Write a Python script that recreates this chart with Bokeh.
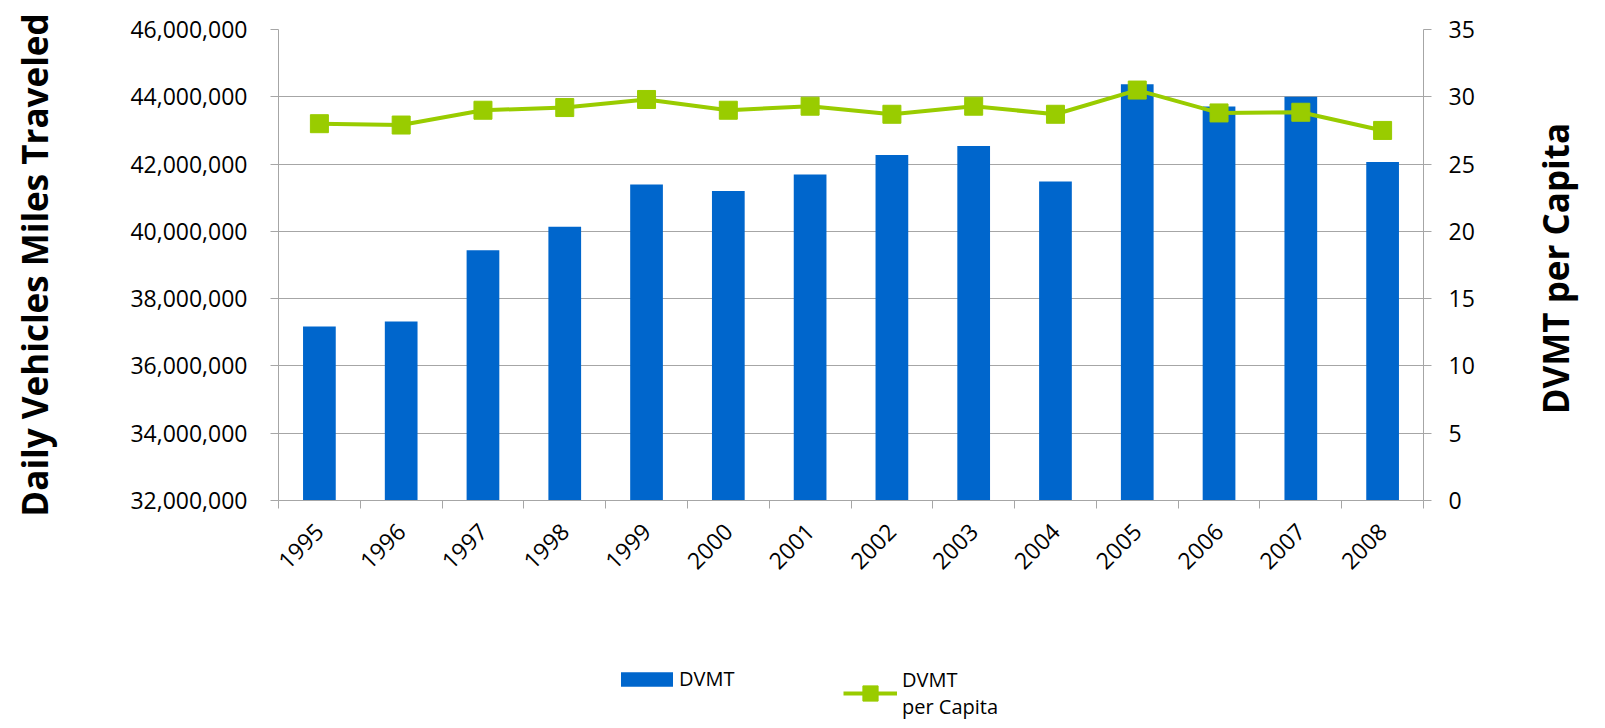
import math
from bokeh.plotting import figure
from bokeh.layouts import column
from bokeh.models import (Range1d, LinearAxis, FixedTicker, NumeralTickFormatter,
                          ColumnDataSource, Legend, LegendItem)
from bokeh.embed import file_html
from bokeh.resources import INLINE

# ---- data ----
years = ["1995", "1996", "1997", "1998", "1999", "2000", "2001",
         "2002", "2003", "2004", "2005", "2006", "2007", "2008"]
dvmt = [37170000, 37320000, 39440000, 40140000, 41390000, 41200000, 41690000,
        42270000, 42540000, 41480000, 44370000, 43710000, 44000000, 42060000]
dvmt_per_capita = [28.0, 27.9, 29.0, 29.2, 29.8, 29.0, 29.3,
                   28.7, 29.3, 28.7, 30.5, 28.8, 28.85, 27.5]
left_ticks = [32000000, 34000000, 36000000, 38000000, 40000000, 42000000, 44000000, 46000000]
right_ticks = [0, 5, 10, 15, 20, 25, 30, 35]
left_title = "Daily Vehicles Miles Traveled"
right_title = "DVMT per Capita"
legend_labels = ["DVMT", "DVMT\nper Capita"]

FONT = "Open Sans"
BLUE = "#0066cc"
GREEN = "#99cc00"
GRAY = "#a6a6a6"

idx = list(range(len(years)))
src = ColumnDataSource(dict(x=idx, dvmt=dvmt, pc=dvmt_per_capita))

p = figure(width=1605, height=640, output_backend="svg", toolbar_location=None,
           x_range=Range1d(-0.5, len(years) - 0.5),
           y_range=Range1d(left_ticks[0], left_ticks[-1]),
           min_border_left=278, min_border_right=181, min_border_top=29,
           min_border_bottom=140, outline_line_color=None)
p.extra_y_ranges = {"right": Range1d(right_ticks[0], right_ticks[-1])}

p.xgrid.visible = False
p.ygrid.grid_line_color = GRAY
p.ygrid.grid_line_width = 1
p.ygrid.ticker = FixedTicker(ticks=left_ticks)

bars = p.vbar(x="x", top="dvmt", bottom=left_ticks[0], width=0.4, source=src,
              fill_color=BLUE, line_color=None)
line = p.line(x="x", y="pc", source=src, y_range_name="right",
              line_color=GREEN, line_width=4)
pts = p.scatter(x="x", y="pc", source=src, y_range_name="right", marker="square",
                size=18, fill_color=GREEN, line_color=GREEN)

# x axis
xa = p.xaxis[0]
xa.ticker = FixedTicker(ticks=idx, minor_ticks=[i - 0.5 for i in range(len(years) + 1)])
xa.major_label_overrides = {i: y for i, y in zip(idx, years)}
xa.major_tick_out = 0
xa.major_tick_in = 0
xa.minor_tick_out = 8
xa.minor_tick_in = 0
xa.minor_tick_line_color = GRAY
xa.axis_line_color = GRAY
xa.major_label_orientation = math.pi / 4
xa.major_label_text_font = FONT
xa.major_label_text_font_size = "23px"
xa.major_label_text_color = "black"
xa.major_label_standoff = 19

# left axis
ya = p.yaxis[0]
ya.ticker = FixedTicker(ticks=left_ticks)
ya.formatter = NumeralTickFormatter(format="0,0")
ya.major_tick_out = 8
ya.major_tick_in = 0
ya.minor_tick_line_color = None
ya.major_tick_line_color = GRAY
ya.axis_line_color = GRAY
ya.major_label_text_font = FONT
ya.major_label_text_font_size = "23px"
ya.major_label_text_color = "black"
ya.major_label_standoff = 23
ya.axis_label = left_title
ya.axis_label_text_font = FONT
ya.axis_label_text_font_size = "35px"
ya.axis_label_text_font_style = "bold"
ya.axis_label_text_color = "black"
ya.axis_label_standoff = 69

# right axis
ra = LinearAxis(y_range_name="right", ticker=FixedTicker(ticks=right_ticks))
ra.major_tick_out = 8
ra.major_tick_in = 0
ra.minor_tick_line_color = None
ra.major_tick_line_color = GRAY
ra.axis_line_color = GRAY
ra.major_label_text_font = FONT
ra.major_label_text_font_size = "23px"
ra.major_label_text_color = "black"
ra.major_label_standoff = 17
p.add_layout(ra, "right")

# right-hand title, drawn as a rotated label reading bottom-to-top
title_anchor = 6.4  # where the rotated title starts, in right-axis units
rt = LinearAxis(y_range_name="right", ticker=FixedTicker(ticks=[title_anchor]))
rt.major_label_overrides = {title_anchor: right_title}
rt.major_label_orientation = math.pi / 2
rt.axis_line_color = None
rt.major_tick_line_color = None
rt.minor_tick_line_color = None
rt.major_tick_out = 0
rt.major_tick_in = 0
rt.major_label_standoff = 78
rt.major_label_text_font = FONT
rt.major_label_text_font_size = "35px"
rt.major_label_text_font_style = "bold"
rt.major_label_text_color = "black"
p.add_layout(rt, "right")

# ---- legend strip (swatch renderers are hidden; only their legend glyphs show) ----
q = figure(width=1605, height=88, output_backend="svg", toolbar_location=None,
           x_range=Range1d(0, 1), y_range=Range1d(0, 1),
           x_axis_location=None, y_axis_location=None,
           min_border_left=0, min_border_right=0, min_border_top=0, min_border_bottom=0,
           outline_line_color=None)
q.grid.visible = False
sw_bar = q.vbar(x="x", top="dvmt", width=0.4, source=src, fill_color=BLUE,
                line_color=None, visible=False)
sw_line = q.line(x="x", y="pc", source=src, line_color=GREEN, line_width=4, visible=False)
sw_pts = q.scatter(x="x", y="pc", source=src, marker="square", size=17,
                   fill_color=GREEN, line_color=GREEN, visible=False)

common = dict(padding=0, margin=0, border_line_color=None, background_fill_alpha=0,
              label_text_font=FONT, label_text_font_size="20px",
              label_text_color="black", orientation="horizontal")
leg1 = Legend(items=[LegendItem(label=legend_labels[0], renderers=[sw_bar])],
              location=(336, 36), glyph_width=65, glyph_height=18, label_height=18,
              label_standoff=0, **common)
leg2 = Legend(items=[LegendItem(label=legend_labels[1], renderers=[sw_line, sw_pts])],
              location=(565, 8), glyph_width=54, glyph_height=38,
              label_standoff=5, **common)
q.add_layout(leg1)
q.add_layout(leg2)

open("out.html", "w").write(file_html(column(p, q), INLINE))
